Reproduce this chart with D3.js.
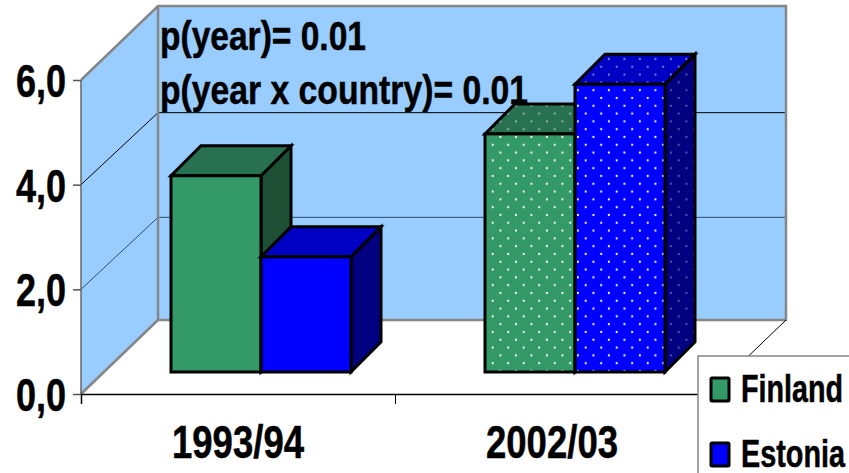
<!DOCTYPE html>
<html lang="en">
<head>
    <meta charset="utf-8">
    <title>Finland and Estonia</title>
    <script src="https://cdn.jsdelivr.net/npm/d3@7"></script>
    <style>
        html, body { margin: 0; padding: 0; background: #fff; overflow: hidden; }
        svg { display: block; }
        text { font-family: "Liberation Sans", sans-serif; font-weight: bold; fill: #000; stroke: #000; stroke-width: 0.5; }
    </style>
</head>
<body>
<div id="chart"></div>
<script>
    var periods = ['1993/94', '2002/03'];
    var countries = ['Finland', 'Estonia'];
    var finland = [3.75, 4.55];
    var estonia = [2.2, 5.5];
    var yTicks = [0, 2, 4, 6];
    var notes = ['p(year)= 0.01', 'p(year x country)= 0.01'];
    var noteWidths = [206, 368];
    var legendWidths = [102, 104];

    var colors = { Finland: '#339966', Estonia: '#0000ff' };
    var tops = { Finland: '#277050', Estonia: '#0000c4' };
    var sides = { Finland: '#1e5035', Estonia: '#000080' };

    var width = 849, height = 473;

    // front plane of the 3d box, the back wall is shifted by (dx, dy)
    var plotLeft = 81, plotRight = 709, plotBottom = 394, plotTop = 80;
    var dx = 77, dy = -74, gridDy = -72;

    // bars stand part way into the floor
    var barDx = 23, barDy = -22, depth = 30;

    var x = d3.scaleBand().domain(periods).range([plotLeft, plotRight]);
    var series = d3.scaleBand().domain(countries).range([-90, 90]);
    var y = d3.scaleLinear().domain([0, 6]).range([plotBottom, plotTop]);

    var svg = d3.select('#chart').append('svg')
        .attr('width', width)
        .attr('height', height);

    var defs = svg.append('defs');

    function dots(id, color, opacity) {
        var p = defs.append('pattern')
            .attr('id', id)
            .attr('patternUnits', 'userSpaceOnUse')
            .attr('x', 8.4)
            .attr('y', 0.5)
            .attr('width', 15.5)
            .attr('height', 15.6);
        p.append('rect').attr('width', 15.5).attr('height', 15.6).attr('fill', color);
        p.append('circle').attr('cx', 3.8).attr('cy', 3.9).attr('r', 1.1).attr('fill', '#fff').attr('opacity', opacity);
        p.append('circle').attr('cx', 11.5).attr('cy', 11.7).attr('r', 1.1).attr('fill', '#fff').attr('opacity', opacity);
    }

    countries.forEach(function(c) {
        dots('front-' + c, colors[c], 1);
        dots('top-' + c, tops[c], 0.5);
        dots('side-' + c, sides[c], 0.35);
    });

    function pts(a) {
        return a.map(function(p) { return p.join(','); }).join(' ');
    }

    // side wall and back wall
    svg.append('polygon')
        .attr('points', pts([[plotLeft, plotBottom], [plotLeft, plotTop], [plotLeft + dx, plotTop + dy], [plotLeft + dx, plotBottom + dy]]))
        .attr('fill', '#99ccff');
    svg.append('rect')
        .attr('x', plotLeft + dx)
        .attr('y', plotTop + dy)
        .attr('width', plotRight - plotLeft)
        .attr('height', plotBottom - plotTop)
        .attr('fill', '#99ccff');

    // gridlines
    yTicks.slice(1, 3).forEach(function(t) {
        svg.append('polyline')
            .attr('points', pts([[plotLeft, y(t)], [plotLeft + dx, y(t) + gridDy], [plotRight + dx, y(t) + gridDy]]))
            .attr('fill', 'none')
            .attr('stroke', t === 2 ? '#2f4c6a' : '#000')
            .attr('stroke-width', 1);
    });

    // wall edges
    svg.append('polyline')
        .attr('points', pts([[plotLeft, plotTop], [plotLeft + dx, plotTop + dy], [plotRight + dx, plotTop + dy], [plotRight + dx, plotBottom + dy], [plotLeft + dx, plotBottom + dy], [plotLeft + dx, plotTop + dy]]))
        .attr('fill', 'none')
        .attr('stroke', '#868686')
        .attr('stroke-width', 2.5);
    svg.append('line')
        .attr('x1', plotLeft).attr('y1', plotBottom)
        .attr('x2', plotLeft + dx).attr('y2', plotBottom + dy)
        .attr('stroke', '#868686')
        .attr('stroke-width', 2.5);
    svg.append('line')
        .attr('x1', plotLeft).attr('y1', plotBottom)
        .attr('x2', plotLeft).attr('y2', plotTop)
        .attr('stroke', '#666')
        .attr('stroke-width', 1.5);
    svg.append('line')
        .attr('x1', plotRight).attr('y1', plotBottom)
        .attr('x2', plotRight + dx).attr('y2', plotBottom + dy)
        .attr('stroke', '#000')
        .attr('stroke-width', 1);

    // notes sit on the back wall
    svg.selectAll('text.note')
        .data(notes)
        .enter()
        .append('text')
        .attr('class', 'note')
        .attr('x', 160)
        .attr('y', function(d, i) { return 49.5 + i * 54; })
        .attr('font-size', 41)
        .attr('textLength', function(d, i) { return noteWidths[i]; })
        .attr('lengthAdjust', 'spacingAndGlyphs')
        .text(function(d) { return d; });

    // bars
    function bar(g, c, v, i) {
        var x0 = x(periods[i]) + x.bandwidth() / 2 + barDx + series(c);
        var x1 = x0 + series.bandwidth();
        var y0 = plotBottom + barDy;
        var y1 = y(v) + barDy;
        var fillId = i === 1 ? function(k) { return 'url(#' + k + '-' + c + ')'; } : null;
        var face = g.append('g')
            .attr('stroke', '#000')
            .attr('stroke-width', 3)
            .attr('stroke-linejoin', 'miter');
        face.append('polygon')
            .attr('points', pts([[x1, y0], [x1, y1], [x1 + depth, y1 - depth], [x1 + depth, y0 - depth]]))
            .attr('fill', fillId ? fillId('side') : sides[c]);
        face.append('polygon')
            .attr('points', pts([[x0, y1], [x1, y1], [x1 + depth, y1 - depth], [x0 + depth, y1 - depth]]))
            .attr('fill', fillId ? fillId('top') : tops[c]);
        face.append('rect')
            .attr('x', x0)
            .attr('y', y1)
            .attr('width', x1 - x0)
            .attr('height', y0 - y1)
            .attr('fill', fillId ? fillId('front') : colors[c]);
    }

    periods.forEach(function(p, i) {
        var g = svg.append('g');
        bar(g, 'Finland', finland[i], i);
        bar(g, 'Estonia', estonia[i], i);
    });

    // axes
    var yAxis = d3.axisLeft(y).tickValues(yTicks).tickSize(8).tickPadding(7)
        .tickFormat(function(d) { return d3.format('.1f')(d).replace('.', ','); });
    var yG = svg.append('g').attr('transform', 'translate(' + plotLeft + ',0)').call(yAxis);
    yG.select('.domain').remove();
    yG.selectAll('line').attr('stroke', '#555').attr('stroke-width', 1.5);
    yG.selectAll('text')
        .attr('font-size', 46)
        .attr('dy', '0.36em')
        .attr('fill', '#000')
        .attr('textLength', 50)
        .attr('lengthAdjust', 'spacingAndGlyphs');

    var xLine = d3.scalePoint().domain(d3.range(3)).range([plotLeft, plotRight]);
    var xAxis = d3.axisBottom(xLine).tickSize(10).tickFormat('');
    var xG = svg.append('g').attr('transform', 'translate(0,' + plotBottom + ')').call(xAxis);
    xG.select('.domain').attr('stroke', '#000').attr('stroke-width', 1.5);
    xG.selectAll('line').attr('stroke', '#000').attr('stroke-width', 1);

    svg.selectAll('text.period')
        .data(periods)
        .enter()
        .append('text')
        .attr('class', 'period')
        .attr('x', function(d) { return x(d) + x.bandwidth() / 2; })
        .attr('y', 458)
        .attr('text-anchor', 'middle')
        .attr('font-size', 46)
        .attr('textLength', 132)
        .attr('lengthAdjust', 'spacingAndGlyphs')
        .text(function(d) { return d; });

    // legend runs off the edge of the picture
    svg.append('rect')
        .attr('x', 698)
        .attr('y', 356)
        .attr('width', 170)
        .attr('height', 140)
        .attr('fill', '#fff')
        .attr('stroke', '#868686')
        .attr('stroke-width', 1.5);

    var legend = svg.selectAll('g.legend')
        .data(countries)
        .enter()
        .append('g')
        .attr('class', 'legend')
        .attr('transform', function(d, i) { return 'translate(0,' + (i * 65) + ')'; });
    legend.append('rect')
        .attr('x', 711)
        .attr('y', 378)
        .attr('width', 18)
        .attr('height', 23)
        .attr('rx', 1)
        .attr('fill', function(d) { return colors[d]; })
        .attr('stroke', '#000')
        .attr('stroke-width', 3);
    // squeeze the labels sideways so they stay inside the picture
    legend.append('text')
        .attr('font-size', 38)
        .text(function(d) { return d; })
        .attr('transform', function(d, i) {
            var sx = legendWidths[i] / this.getComputedTextLength();
            return 'translate(741,401.5) scale(' + sx + ',1)';
        });
</script>
</body>
</html>
